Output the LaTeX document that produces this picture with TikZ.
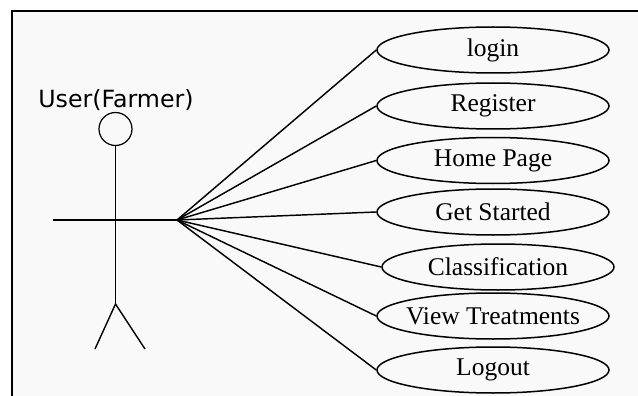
\documentclass[tikz,border=0pt]{standalone}
\usepackage{fontspec}
\setmainfont{Liberation Serif}
\newfontfamily\actorfont{DejaVu Sans}
\usetikzlibrary{shapes.geometric}
\definecolor{bgpaper}{HTML}{F9F9F9}
\begin{document}
\begin{tikzpicture}[x=1pt,y=-1pt,
  usecase/.style={draw, ellipse, line width=1.5pt, minimum width=232pt, minimum height=46pt, inner xsep=-25pt, inner ysep=0pt, font=\fontsize{25.5}{28}\selectfont},
  conn/.style={line width=1.45pt},
  stick/.style={line width=1.4pt}]
\useasboundingbox (0,0) rectangle (638,396);
\fill[white] (0,0) rectangle (638,396);
\fill[bgpaper] (12,11.5) rectangle (638,396);
\draw[line width=2pt] (12,396) -- (12,11.5) -- (638,11.5);
% actor
\node[font=\actorfont\fontsize{23.7}{27}\selectfont, anchor=base] (actorlabel) at (116,107) {User(Farmer)};
\node[draw, circle, line width=1.2pt, minimum size=33pt, inner sep=0pt] (head) at (115.5,129) {};
\coordinate (hip) at (115.5,304);
\coordinate (handL) at (53,220);
\coordinate (handR) at (177,220);
\coordinate (footL) at (95,349);
\coordinate (footR) at (145,349);
\draw[stick] (head.south) -- (hip);
\draw[stick] (handL) -- (handR);
\draw[stick] (footL) -- (hip) -- (footR);
% use cases
\node[usecase] (login) at (493,50) {login};
\node[usecase] (register) at (493,106) {Register};
\node[usecase] (home) at (493,160.5) {Home Page};
\node[usecase] (started) at (493,212) {Get Started};
\node[usecase] (classif) at (498,267) {Classification};
\node[usecase] (treat) at (493,316) {View Treatments};
\node[usecase] (logout) at (493,370) {Logout};
\foreach \u in {login,register,home,started,classif,treat,logout}
  \draw[conn] (handR) -- (\u.west);
\end{tikzpicture}
\end{document}
